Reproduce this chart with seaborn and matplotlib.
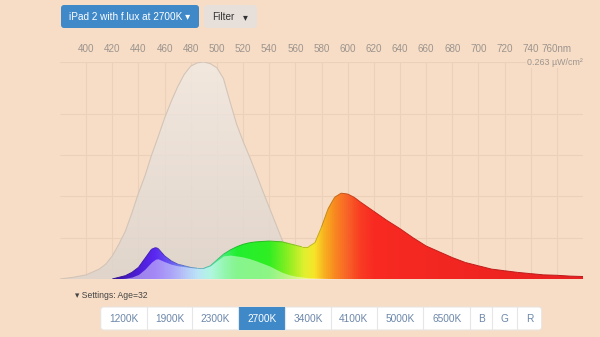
import numpy as np
import matplotlib
matplotlib.use("Agg")
import matplotlib.pyplot as plt
import seaborn as sns
import matplotlib.transforms as mtransforms
from matplotlib.colors import LinearSegmentedColormap
from matplotlib.patches import FancyBboxPatch, Rectangle
from matplotlib.collections import LineCollection

# ---------------- data ----------------
# melanopsin sensitivity curve (grey)
mel_nm = [380, 390, 400, 410, 415, 420, 425, 430, 435, 440, 445, 450, 455, 460, 465,
          470, 475, 480, 485, 490, 495, 500, 505, 510, 515, 520, 525, 530, 535, 540,
          545, 550, 555, 560, 570, 580, 590, 600]
mel_val = [0.000, 0.002, 0.005, 0.012, 0.018, 0.028, 0.042, 0.058, 0.080, 0.104, 0.125,
           0.150, 0.172, 0.195, 0.215, 0.233, 0.248, 0.258, 0.262, 0.263, 0.261, 0.256,
           0.243, 0.215, 0.188, 0.167, 0.148, 0.128, 0.107, 0.087, 0.067, 0.047, 0.033,
           0.022, 0.010, 0.004, 0.001, 0.000]

# display spectrum (coloured)
spd_nm = [420, 425, 430, 435, 440, 445, 450, 453, 455, 460, 465, 470, 475, 480, 485,
          490, 495, 500, 505, 510, 515, 520, 525, 530, 540, 550, 555, 560, 565, 570,
          575, 580, 585, 590, 595, 600, 605, 610, 620, 630, 640, 650, 660, 670, 680,
          690, 700, 710, 720, 730, 740, 750, 760, 770, 780]
spd_val = [0.000, 0.002, 0.004, 0.008, 0.014, 0.025, 0.036, 0.038, 0.037, 0.028, 0.022,
           0.018, 0.016, 0.014, 0.013, 0.013, 0.016, 0.023, 0.030, 0.035, 0.039, 0.042,
           0.044, 0.045, 0.046, 0.045, 0.043, 0.041, 0.039, 0.039, 0.044, 0.063, 0.085,
           0.099, 0.104, 0.103, 0.099, 0.093, 0.082, 0.071, 0.061, 0.050, 0.040, 0.033,
           0.026, 0.020, 0.016, 0.012, 0.010, 0.008, 0.0065, 0.005, 0.0045, 0.0035, 0.003]

# melanopic-weighted part of the spectrum (pastel inner layer)
inner_nm = [425, 430, 435, 440, 445, 450, 453, 455, 460, 465, 470, 475, 480, 485, 490,
            495, 500, 505, 510, 515, 520, 525, 530, 540, 550, 555, 560, 570, 580, 590, 600]
inner_val = [0.0003, 0.0009, 0.0024, 0.0055, 0.012, 0.0205, 0.024, 0.0245, 0.021, 0.018,
             0.016, 0.015, 0.0138, 0.013, 0.013, 0.0158, 0.022, 0.028, 0.029, 0.028,
             0.0267, 0.0247, 0.022, 0.016, 0.008, 0.0054, 0.0035, 0.0015, 0.001, 0.0004, 0.0]

tick_nm = [400, 420, 440, 460, 480, 500, 520, 540, 560, 580, 600, 620, 640, 660, 680,
           700, 720, 740, 760]
tick_labels = ['400', '420', '440', '460', '480', '500', '520', '540', '560', '580', '600',
               '620', '640', '660', '680', '700', '720', '740', '760nm']
grid_y = [0.05, 0.10, 0.15, 0.20]
y_max = 0.263
peak_label = '0.263 µW/cm²'

title_button = 'iPad 2 with f.lux at 2700K'
filter_button = 'Filter'
settings_text = 'Settings: Age=32'
presets = ['1200K', '1900K', '2300K', '2700K', '3400K', '4100K', '5000K', '6500K', 'B', 'G', 'R']
active_preset = '2700K'

# ---------------- style ----------------
BG = '#F7DDC6'
GRID = '#EBD0BA'
BLUE = '#3F89C9'
sns.set_theme(style='white', rc={'figure.facecolor': BG, 'axes.facecolor': BG})
plt.rcParams['font.family'] = ['Liberation Sans', 'DejaVu Sans']

fig = plt.figure(figsize=(6, 3.37), dpi=100, facecolor=BG)
ax = fig.add_axes([60 / 600, 1 - 279 / 337, (583 - 60) / 600, (279 - 62) / 337])
ax.set_facecolor(BG)
ax.set_xlim(380, 780)
ax.set_ylim(0, y_max)
for s in ax.spines.values():
    s.set_visible(False)

# grid
ax.vlines(tick_nm, 0, y_max, color=GRID, lw=0.8, zorder=1)
ax.hlines(grid_y, 380, 780, color=GRID, lw=0.8, zorder=1)
ax.axhline(y_max, color=GRID, lw=0.8, zorder=1)

# grey melanopsin curve with vertical gradient
mel_poly = ax.fill_between(mel_nm, mel_val, 0, facecolor='none', edgecolor='none')
grey_cmap = LinearSegmentedColormap.from_list('g', ['#DDD4CD', '#F2EAE3'])
im = ax.imshow(np.linspace(0, 1, 256).reshape(-1, 1), extent=[380, 780, 0, y_max],
               origin='lower', aspect='auto', cmap=grey_cmap, alpha=0.85, zorder=2)
im.set_clip_path(mel_poly.get_paths()[0], transform=ax.transData)
sns.lineplot(x=mel_nm, y=mel_val, ax=ax, color='#D3C4B8', lw=0.8, zorder=3)

# spectral colour gradient
stops = [(380, '#3A10A0'), (420, '#3A12A8'), (440, '#4E1FD8'), (452, '#5A28F0'),
         (465, '#6A5CF2'), (475, '#7C98F2'), (485, '#82D0F0'), (495, '#70F0C8'),
         (505, '#40F070'), (515, '#22EE30'), (540, '#30EE22'), (555, '#90EE22'),
         (567, '#E2F030'), (575, '#F8E428'), (582, '#F8B020'), (590, '#F88A20'),
         (600, '#F86228'), (610, '#F83C22'), (620, '#F82A22'), (780, '#E82020')]
spec_cmap = LinearSegmentedColormap.from_list(
    'spec', [((w - 380) / 400, c) for w, c in stops])
spd_poly = ax.fill_between(spd_nm, spd_val, 0, facecolor='none', edgecolor='none')
im2 = ax.imshow(np.linspace(0, 1, 1000).reshape(1, -1), extent=[380, 780, 0, y_max],
                origin='lower', aspect='auto', cmap=spec_cmap, zorder=4)
im2.set_clip_path(spd_poly.get_paths()[0], transform=ax.transData)

# thin darker outline following the spectrum colours
pts = np.column_stack([spd_nm, spd_val])
segs = np.stack([pts[:-1], pts[1:]], axis=1)
mids = (np.array(spd_nm[:-1]) + np.array(spd_nm[1:])) / 2
seg_cols = spec_cmap((mids - 380) / 400)
seg_cols[:, :3] *= 0.8
lc = LineCollection(segs, colors=seg_cols, lw=0.7, zorder=4.5)
ax.add_collection(lc)

# pastel inner layer
ax.fill_between(inner_nm, inner_val, 0, color='white', alpha=0.45, lw=0, zorder=5)

# axis labels
ax.xaxis.tick_top()
ax.set_xticks(tick_nm)
ax.set_xticklabels(tick_labels)
ax.tick_params(axis='x', length=0, pad=6, labelsize=7.1, labelcolor='#9C948E')
ax.set_yticks([])
ax.text(780, y_max, peak_label, ha='right', va='center', fontsize=6.4, color='#9C948E',
        bbox=dict(fc=BG, ec='none', pad=0.8), zorder=6)

# ---------------- UI chrome (pixel coordinates from top-left) ----------------
T = mtransforms.Affine2D().scale(1 / 600, -1 / 337).translate(0, 1) + fig.transFigure


def box(x0, y0, x1, y1, fc, ec='none', r=3.0, lw=0.8):
    p = FancyBboxPatch((x0, y0), x1 - x0, y1 - y0,
                       boxstyle=f'round,pad=0,rounding_size={r}',
                       transform=T, fc=fc, ec=ec, lw=lw)
    fig.patches.append(p)


box(61, 5, 199, 28, BLUE)
fig.text(130, 17, title_button + ' ▾', transform=T, ha='center', va='center',
         color='white', fontsize=7.2)
box(204, 5, 257, 28, '#E7E0DA')
fig.text(212, 17, filter_button, transform=T, ha='left', va='center', color='#333333',
         fontsize=7.2)
fig.text(245, 17.5, '▾', transform=T, ha='center', va='center', color='#333333', fontsize=7)

fig.text(75, 296, '▾ ' + settings_text, transform=T, ha='left', va='center',
         color='#444444', fontsize=6.2)

edges = [100.7, 146.7, 192.3, 238.3, 285, 330.7, 376.7, 423.3, 470, 492.3, 517.3, 541.7]
box(edges[0], 307, edges[-1], 330, 'white', ec='#E9E4E0', r=3)
for i, lab in enumerate(presets):
    x0, x1 = edges[i], edges[i + 1]
    if lab == active_preset:
        fig.patches.append(Rectangle((x0, 307), x1 - x0, 23, transform=T, fc=BLUE, ec='none'))
        col = 'white'
    else:
        col = '#6C87AA'
    if 0 < i:
        fig.add_artist(plt.Line2D([x0, x0], [307, 330], transform=T, color='#E6E6E6', lw=0.8))
    fig.text((x0 + x1) / 2, 318.5, lab, transform=T, ha='center', va='center',
             color=col, fontsize=7.3)

fig.savefig('out.png', dpi=100, facecolor=BG)
